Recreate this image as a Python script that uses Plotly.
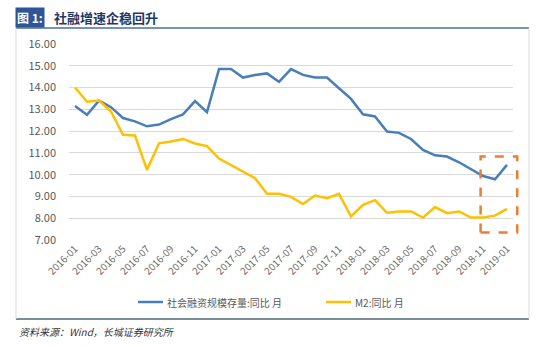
import plotly.graph_objects as go

months = [f"{y}-{m:02d}" for y in (2016, 2017, 2018) for m in range(1, 13)] + ["2019-01"]

tsf_yoy = [13.15, 12.75, 13.4, 13.1, 12.6, 12.45, 12.22, 12.3, 12.55, 12.77, 13.38, 12.87,
           14.85, 14.85, 14.46, 14.58, 14.65, 14.26, 14.85, 14.58, 14.46, 14.46, 13.97, 13.48,
           12.77, 12.67, 11.98, 11.92, 11.64, 11.14, 10.89, 10.83, 10.57, 10.25, 9.94, 9.79,
           10.45]
m2_yoy = [14.0, 13.35, 13.4, 12.9, 11.83, 11.8, 10.22, 11.44, 11.52, 11.64, 11.43, 11.31,
          10.74, 10.45, 10.14, 9.84, 9.12, 9.12, 8.98, 8.65, 9.04, 8.92, 9.12, 8.08,
          8.61, 8.83, 8.25, 8.31, 8.31, 8.03, 8.51, 8.23, 8.31, 8.03, 8.03, 8.12,
          8.43]

series_names = ["社会融资规模存量:同比 月", "M2:同比 月"]
series_colors = ["#4A7EBB", "#FFC000"]
tick_labels = months[::2]

Y_MIN, Y_MAX = 7, 16
# highlighted region (category index / value units)
hl_x = [33.8, 36.85]
hl_y = [7.34, 10.83]

FONT = "Noto Sans CJK SC"

fig = go.Figure()
for vals, name, col in zip([tsf_yoy, m2_yoy], series_names, series_colors):
    fig.add_trace(go.Scatter(x=months, y=vals, mode="lines", name=name,
                             line=dict(color=col, width=2.5), showlegend=False))

# plot area: x 69..513 px, y 44..240 px
W, H = 444, 196
def px(xp): return (xp - 69) / W
def py(yp): return (240 - yp) / H
n = len(months)
def cx(i): return (i + 0.5) / n
def vy(v): return (v - Y_MIN) / (Y_MAX - Y_MIN)

shapes = [
    dict(type="rect", xref="paper", yref="paper", x0=cx(hl_x[0]), x1=cx(hl_x[1]),
         y0=vy(hl_y[0]), y1=vy(hl_y[1]),
         line=dict(color="#ED7D31", width=2.5, dash="dash"), fillcolor="rgba(0,0,0,0)"),
    # frame
    dict(type="line", xref="paper", yref="paper", x0=px(16), x1=px(529), y0=py(28), y1=py(28),
         line=dict(color="#4A6FA5", width=1.5)),
    dict(type="line", xref="paper", yref="paper", x0=px(16), x1=px(529), y0=py(319), y1=py(319),
         line=dict(color="#4A6A7A", width=1.5)),
    dict(type="line", xref="paper", yref="paper", x0=px(16), x1=px(16), y0=py(28), y1=py(319),
         line=dict(color="#D9D9D9", width=1)),
    dict(type="line", xref="paper", yref="paper", x0=px(529), x1=px(529), y0=py(28), y1=py(319),
         line=dict(color="#D9D9D9", width=1)),
]

annotations = [
    dict(text="<b>图 1:</b>", xref="paper", yref="paper", x=px(15), y=py(17.5),
         xanchor="left", yanchor="middle", showarrow=False, bgcolor="#2E5596",
         font=dict(family=FONT, size=12, color="white"), borderpad=1),
    dict(text="<b>社融增速企稳回升</b>", xref="paper", yref="paper", x=px(52), y=py(17.5),
         xanchor="left", yanchor="middle", showarrow=False,
         font=dict(family=FONT, size=13, color="#1F3864")),
    dict(text="<i>资料来源：Wind，长城证券研究所</i>", xref="paper", yref="paper", x=px(17), y=py(331),
         xanchor="left", yanchor="middle", showarrow=False,
         font=dict(family=FONT, size=10, color="#333333")),
]

# manual legend
legend_x = [138, 326]
for lx, name, col in zip(legend_x, series_names, series_colors):
    shapes.append(dict(type="line", xref="paper", yref="paper", x0=px(lx), x1=px(lx + 25),
                       y0=py(302), y1=py(302), line=dict(color=col, width=2.5)))
    annotations.append(dict(text=name, xref="paper", yref="paper", x=px(lx + 27), y=py(302),
                            xanchor="left", yanchor="middle", showarrow=False,
                            font=dict(family=FONT, size=10, color="#595959")))

fig.update_layout(
    width=550, height=347,
    margin=dict(l=69, r=37, t=44, b=107),
    paper_bgcolor="white", plot_bgcolor="white",
    font=dict(family=FONT, size=10, color="#595959"),
    shapes=shapes, annotations=annotations,
    showlegend=False,
)
fig.update_xaxes(type="category", range=[-0.5, n - 0.5], tickvals=tick_labels, ticktext=tick_labels,
                 tickangle=-45, showgrid=False, showline=False, zeroline=False,
                 tickfont=dict(family=FONT, size=10, color="#6E6E6E"), ticks="")
fig.update_yaxes(range=[Y_MIN, Y_MAX], dtick=1, tickformat=".2f", showgrid=True, gridcolor="#D9D9D9",
                 gridwidth=1, zeroline=False, showline=False, ticks="",
                 ticklabelstandoff=12,
                 tickfont=dict(family=FONT, size=11, color="#595959"))

fig.write_html("out.html")
